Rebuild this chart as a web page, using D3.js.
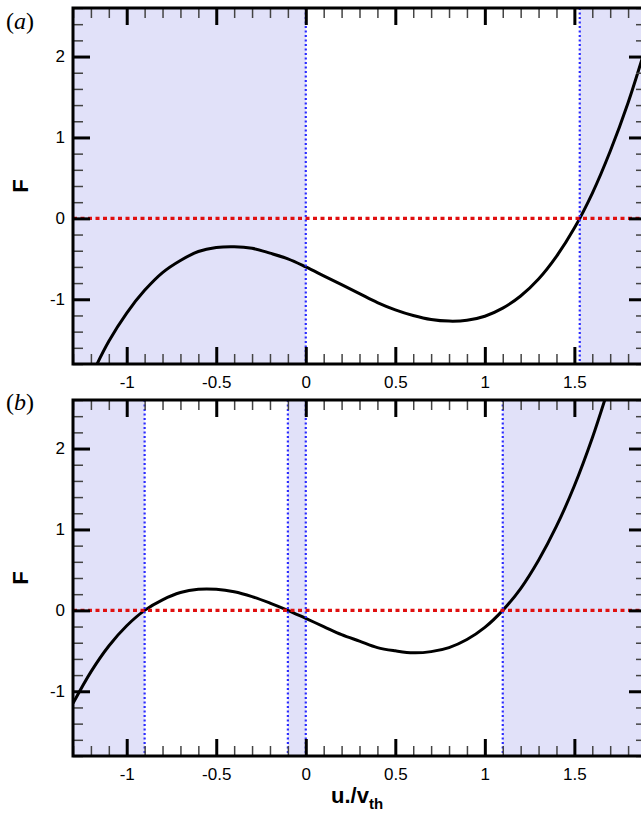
<!DOCTYPE html>
<html>
<head>
<meta charset="utf-8">
<script src="https://cdn.jsdelivr.net/npm/d3@7"></script>
<style>
  html, body { margin: 0; padding: 0; background: #fff; }
  svg { display: block; font-family: "Liberation Sans", Arial, Helvetica, sans-serif; }
</style>
</head>
<body>
<svg id="chart" width="641" height="815"></svg>
<script>
// ---------------- data ----------------
const uValues = [-1.3,-1.2,-1.1,-1.0,-0.9,-0.8,-0.7,-0.6,-0.5,-0.4,-0.3,-0.2,-0.1,0.0,
                 0.1,0.2,0.3,0.4,0.5,0.6,0.7,0.8,0.9,1.0,1.1,1.2,1.3,1.4,1.5,1.6,1.7,1.8,1.9];
const fPanelA = [-2.47,-1.96,-1.52,-1.17,-0.89,-0.67,-0.52,-0.41,-0.36,-0.35,-0.37,-0.43,-0.50,-0.60,
                 -0.71,-0.82,-0.93,-1.04,-1.13,-1.20,-1.25,-1.27,-1.26,-1.21,-1.11,-0.96,-0.75,-0.47,-0.12,0.31,0.83,1.43,2.13];
const fPanelB = [-1.15,-0.76,-0.44,-0.19,0.00,0.13,0.22,0.26,0.26,0.23,0.17,0.09,0.00,-0.10,
                 -0.20,-0.30,-0.38,-0.46,-0.50,-0.525,-0.51,-0.46,-0.36,-0.21,0.00,0.27,0.62,1.04,1.54,2.13,2.81,3.5,4.3];
// shaded (unstable) intervals and dotted marker positions
const shadeA = [[-1.3, 0.0], [1.53, 1.9]];
const shadeB = [[-1.3, -0.9], [-0.1, 0.0], [1.1, 1.9]];
const markA = [0.0, 1.53];
const markB = [-0.9, -0.1, 0.0, 1.1];
const panelLabels = ["a", "b"];
const xMajorTicks = [-1, -0.5, 0, 0.5, 1, 1.5];
const yMajorTicks = [-1, 0, 1, 2];
const xDomain = [-1.3, 1.9];
const yDomain = [-1.8, 2.6];

// ---------------- layout ----------------
const svg = d3.select("#chart");
const left = 73, right = 646;
const panels = [
  {top: 8, bottom: 364, f: fPanelA, shade: shadeA, marks: markA, label: panelLabels[0], labelY: 29, showXTitle: false},
  {top: 400, bottom: 756, f: fPanelB, shade: shadeB, marks: markB, label: panelLabels[1], labelY: 410, showXTitle: true}
];

const xMinor = d3.range(-13, 20).map(d => +(d / 10).toFixed(1)).filter(d => !xMajorTicks.includes(d));
const yMinor = d3.range(-9, 14).map(d => +(d / 5).toFixed(1)).filter(d => !yMajorTicks.includes(d));
const fmt = d => (d === 0 ? "0" : String(d));

panels.forEach((p, i) => {
  const x = d3.scaleLinear().domain(xDomain).range([left, right]);
  const y = d3.scaleLinear().domain(yDomain).range([p.bottom, p.top]);
  const g = svg.append("g");
  const clipId = "clip" + i;
  svg.append("clipPath").attr("id", clipId)
    .append("rect").attr("x", left).attr("y", p.top)
    .attr("width", right - left).attr("height", p.bottom - p.top);

  const plot = g.append("g").attr("clip-path", `url(#${clipId})`);
  // shading
  plot.selectAll("rect.shade").data(p.shade).join("rect")
    .attr("class", "shade")
    .attr("x", d => x(d[0])).attr("width", d => x(d[1]) - x(d[0]))
    .attr("y", p.top).attr("height", p.bottom - p.top)
    .attr("fill", "#e1e1f9");

  // curve
  const line = d3.line().x((d, j) => x(uValues[j])).y(d => y(d)).curve(d3.curveCatmullRom);
  plot.append("path").datum(p.f).attr("d", line)
    .attr("fill", "none").attr("stroke", "#000").attr("stroke-width", 3);

  // blue dotted verticals
  plot.selectAll("line.mark").data(p.marks).join("line")
    .attr("class", "mark")
    .attr("x1", d => x(d)).attr("x2", d => x(d))
    .attr("y1", p.top).attr("y2", p.bottom)
    .attr("stroke", "#2a2aff").attr("stroke-width", 2.2)
    .attr("stroke-dasharray", "2,2.5");

  // red dotted zero line
  plot.append("line")
    .attr("x1", left).attr("x2", right).attr("y1", y(0)).attr("y2", y(0))
    .attr("stroke", "#e01010").attr("stroke-width", 3.2)
    .attr("stroke-dasharray", "4,3.5");

  // axes
  const minorStyle = sel => {
    sel.select(".domain").remove();
    sel.selectAll(".tick line").attr("stroke", "#444").attr("stroke-width", 1.5);
    sel.selectAll(".tick text").remove();
  };
  const majorStyle = (sel, keepText) => {
    sel.select(".domain").remove();
    sel.selectAll(".tick line").attr("stroke", "#000").attr("stroke-width", 3);
    if (!keepText) sel.selectAll(".tick text").remove();
    else sel.selectAll(".tick text")
      .style("font-family", "'Liberation Sans', Arial, sans-serif")
      .style("font-size", "17px").attr("fill", "#000");
  };

  g.append("g").attr("transform", `translate(0,${p.bottom})`)
    .call(d3.axisBottom(x).tickValues(xMinor).tickSize(-10)).call(minorStyle);
  g.append("g").attr("transform", `translate(0,${p.top})`)
    .call(d3.axisTop(x).tickValues(xMinor).tickSize(-10)).call(minorStyle);
  g.append("g").attr("transform", `translate(${left},0)`)
    .call(d3.axisLeft(y).tickValues(yMinor).tickSize(-10)).call(minorStyle);
  g.append("g").attr("transform", `translate(${right},0)`)
    .call(d3.axisRight(y).tickValues(yMinor).tickSize(-10)).call(minorStyle);

  g.append("g").attr("transform", `translate(0,${p.bottom})`)
    .call(d3.axisBottom(x).tickValues(xMajorTicks).tickSize(-17).tickPadding(12).tickFormat(fmt))
    .call(s => majorStyle(s, true));
  g.append("g").attr("transform", `translate(0,${p.top})`)
    .call(d3.axisTop(x).tickValues(xMajorTicks).tickSize(-17)).call(s => majorStyle(s, false));
  g.append("g").attr("transform", `translate(${left},0)`)
    .call(d3.axisLeft(y).tickValues(yMajorTicks).tickSize(-17).tickPadding(8).tickFormat(fmt))
    .call(s => majorStyle(s, true));
  g.append("g").attr("transform", `translate(${right},0)`)
    .call(d3.axisRight(y).tickValues(yMajorTicks).tickSize(-17)).call(s => majorStyle(s, false));

  // frame
  g.append("rect").attr("x", left).attr("y", p.top)
    .attr("width", right - left).attr("height", p.bottom - p.top)
    .attr("fill", "none").attr("stroke", "#000").attr("stroke-width", 3);

  // y title
  const cy = (p.top + p.bottom) / 2;
  g.append("text").attr("transform", `translate(28,${cy}) rotate(-90)`)
    .attr("text-anchor", "middle").style("font-size", "22px").style("font-weight", "bold")
    .text("F");

  // panel label (serif)
  const lab = g.append("text").attr("x", 6).attr("y", p.labelY)
    .style("font-family", "'Liberation Serif', 'Times New Roman', serif").style("font-size", "24px");
  lab.append("tspan").text("(");
  lab.append("tspan").style("font-style", "italic").text(p.label);
  lab.append("tspan").text(")");

  if (p.showXTitle) {
    const t = g.append("text").attr("x", 331).attr("y", 803)
      .style("font-size", "22px").style("font-weight", "bold");
    t.append("tspan").text("u./v");
    t.append("tspan").style("font-size", "15px").attr("dy", 6).text("th");
  }
});
</script>
</body>
</html>
